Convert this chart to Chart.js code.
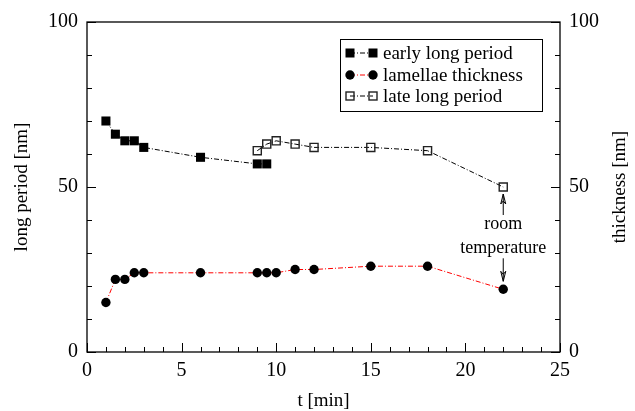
<!DOCTYPE html>
<html><head><meta charset="utf-8">
<script src="https://cdn.jsdelivr.net/npm/chart.js@4.4.0/dist/chart.umd.min.js"></script>
<style>html,body{margin:0;padding:0;background:#fff}#wrap{width:635px;height:411px}</style>
</head><body><div id="wrap"><canvas id="c" width="635" height="411"></canvas></div>
<script>
// ---- data ----
const earlyT  = [1, 1.5, 2, 2.5, 3, 6, 9, 9.5];
const earlyLP = [70, 66, 64, 64, 62, 59, 57, 57];
const lateT   = [9, 9.5, 10, 11, 12, 15, 18, 22];
const lateLP  = [61, 63, 64, 63, 62, 62, 61, 50];
const thickT  = [1, 1.5, 2, 2.5, 3, 6, 9, 9.5, 10, 11, 12, 15, 18, 22];
const thick   = [15, 22, 22, 24, 24, 24, 24, 24, 24, 25, 25, 26, 26, 19];
const xTickVals = [0, 5, 10, 15, 20, 25];
const yTickVals = [0, 50, 100];
const seriesNames = ['early long period', 'lamellae thickness', 'late long period'];
const rightTitle = 'thickness [nm]';
const noteLines = ['room', 'temperature'];
const noteT = 22;

const FONT = 'Liberation Serif';
const toXY = (xs, ys) => xs.map((x, i) => ({x, y: ys[i]}));
const DASH = [5, 2, 1, 2];

function drawMarker(ctx, kind, x, y) {
  ctx.save();
  if (kind === 'fsq') { ctx.fillStyle = '#000'; ctx.fillRect(x - 4.5, y - 4.5, 9, 9); }
  else if (kind === 'circ') { ctx.fillStyle = '#000'; ctx.beginPath(); ctx.arc(x, y, 4.7, 0, Math.PI * 2); ctx.fill(); }
  else { ctx.strokeStyle = '#222'; ctx.lineWidth = 1.4; ctx.strokeRect(x - 4, y - 4, 8, 8); }
  ctx.restore();
}

const decor = {
  id: 'decor',
  beforeDatasetsDraw(chart) {
    const {ctx, chartArea: a, scales: {x, y, y1}} = chart;
    ctx.save();
    ctx.strokeStyle = '#000'; ctx.lineWidth = 1.3;
    ctx.strokeRect(a.left, a.top, a.right - a.left, a.bottom - a.top);
    ctx.lineWidth = 1;
    ctx.beginPath();
    for (let v = 0; v <= 25; v++) {
      const px = Math.round(x.getPixelForValue(v)) + 0.5;
      const L = v % 5 === 0 ? 9 : 5;
      ctx.moveTo(px, a.bottom); ctx.lineTo(px, a.bottom - L);
    }
    for (let v = 0; v <= 100; v += 10) {
      const py = Math.round(y.getPixelForValue(v)) + 0.5;
      const L = v % 50 === 0 ? 9 : 5;
      ctx.moveTo(a.left, py); ctx.lineTo(a.left + L, py);
      ctx.moveTo(a.right, py); ctx.lineTo(a.right - L, py);
    }
    ctx.stroke();
    // right axis title, rotated like the left one
    ctx.save();
    ctx.translate(y1.right - 15, (a.top + a.bottom) / 2);
    ctx.rotate(-Math.PI / 2);
    ctx.font = '19px "' + FONT + '"';
    ctx.fillStyle = '#000'; ctx.textAlign = 'center'; ctx.textBaseline = 'middle';
    ctx.fillText(rightTitle, 0, 0);
    ctx.restore();
    ctx.restore();
  },
  afterDraw(chart) {
    const {ctx, scales: {x, y, y1}} = chart;
    ctx.save();
    // legend
    const bx = 340, by = 39, bw = 202, bh = 72;
    ctx.strokeStyle = '#000'; ctx.lineWidth = 1;
    ctx.strokeRect(bx + 0.5, by + 0.5, bw, bh);
    const kinds = ['fsq', 'circ', 'osq'];
    const cols = ['#000', '#f00', '#000'];
    const rows = [53, 75, 96];
    ctx.font = '19px "' + FONT + '"';
    ctx.textBaseline = 'middle'; ctx.textAlign = 'left'; ctx.fillStyle = '#000';
    for (let i = 0; i < 3; i++) {
      const ry = rows[i];
      ctx.save(); ctx.strokeStyle = cols[i]; ctx.lineWidth = 1; ctx.setLineDash(DASH);
      ctx.beginPath(); ctx.moveTo(350, ry); ctx.lineTo(373, ry); ctx.stroke(); ctx.restore();
      drawMarker(ctx, kinds[i], 350, ry);
      drawMarker(ctx, kinds[i], 373, ry);
      ctx.fillText(seriesNames[i], 383, ry + 1);
    }
    // annotation
    const ax = x.getPixelForValue(noteT);
    const yTop = y.getPixelForValue(lateLP[lateLP.length - 1]);
    const yBot = y1.getPixelForValue(thick[thick.length - 1]);
    ctx.font = '18px "' + FONT + '"';
    ctx.textAlign = 'center';
    ctx.fillText(noteLines[0], ax, yTop + 37);
    ctx.fillText(noteLines[1], ax, yTop + 61);
    function arrow(x0, yFrom, yTip) {
      const dir = yTip < yFrom ? 1 : -1;
      ctx.save(); ctx.strokeStyle = '#000'; ctx.lineWidth = 1;
      ctx.beginPath();
      ctx.moveTo(x0, yFrom); ctx.lineTo(x0, yTip);
      ctx.moveTo(x0 - 2.5, yTip + dir * 10); ctx.lineTo(x0, yTip); ctx.lineTo(x0 + 2.5, yTip + dir * 10);
      ctx.moveTo(x0 - 2.5, yTip + dir * 10); ctx.lineTo(x0, yTip + dir * 7); ctx.lineTo(x0 + 2.5, yTip + dir * 10);
      ctx.stroke(); ctx.restore();
    }
    arrow(ax, yTop + 28, yTop + 7);
    arrow(ax, yBot - 31, yBot - 8);
    ctx.restore();
  }
};

new Chart(document.getElementById('c'), {
  type: 'scatter',
  data: {
    datasets: [
      { label: seriesNames[0], data: toXY(earlyT, earlyLP), yAxisID: 'y', showLine: true,
        borderColor: '#000', borderWidth: 1, borderDash: DASH, pointStyle: 'rect', pointRadius: 6.4,
        pointBackgroundColor: '#000', pointBorderColor: '#000', pointBorderWidth: 0 },
      { label: seriesNames[1], data: toXY(thickT, thick), yAxisID: 'y1', showLine: true,
        borderColor: '#f00', borderWidth: 1, borderDash: DASH, pointStyle: 'circle', pointRadius: 4.7,
        pointBackgroundColor: '#000', pointBorderColor: '#000', pointBorderWidth: 0 },
      { label: seriesNames[2], data: toXY(lateT, lateLP), yAxisID: 'y', showLine: true,
        borderColor: '#000', borderWidth: 1, borderDash: DASH, pointStyle: 'rect', pointRadius: 5.7,
        pointBackgroundColor: 'rgba(0,0,0,0)', pointBorderColor: '#222', pointBorderWidth: 1.4 }
    ]
  },
  options: {
    responsive: false, animation: false, devicePixelRatio: 1,
    layout: { padding: { top: 22, left: 0, right: 0, bottom: 0 } },
    plugins: { legend: { display: false }, tooltip: { enabled: false } },
    scales: {
      x: { type: 'linear', position: 'bottom', min: 0, max: 25,
        afterFit: s => { s.height = 59; },
        afterBuildTicks: s => { s.ticks = xTickVals.map(v => ({value: v})); },
        grid: { display: false, drawTicks: false }, border: { display: false },
        ticks: { color: '#000', font: { family: FONT, size: 20 }, padding: 7, maxRotation: 0 },
        title: { display: true, text: 't [min]', color: '#000', font: { family: FONT, size: 19, lineHeight: 1 }, padding: { top: 0, bottom: 0 } } },
      y: { type: 'linear', position: 'left', min: 0, max: 100,
        afterFit: s => { s.width = 87; },
        afterBuildTicks: s => { s.ticks = yTickVals.map(v => ({value: v})); },
        grid: { display: false, drawTicks: false }, border: { display: false },
        ticks: { color: '#000', font: { family: FONT, size: 20 }, padding: 9 },
        title: { display: true, text: 'long period [nm]', color: '#000', font: { family: FONT, size: 19, lineHeight: 1 }, padding: { top: 13, bottom: 0 } } },
      y1: { type: 'linear', position: 'right', min: 0, max: 100,
        afterFit: s => { s.width = 75; },
        afterBuildTicks: s => { s.ticks = yTickVals.map(v => ({value: v})); },
        grid: { display: false, drawTicks: false }, border: { display: false },
        ticks: { color: '#000', font: { family: FONT, size: 20 }, padding: 9 },
        title: { display: false } }
    }
  },
  plugins: [decor]
});
</script>
</body></html>
